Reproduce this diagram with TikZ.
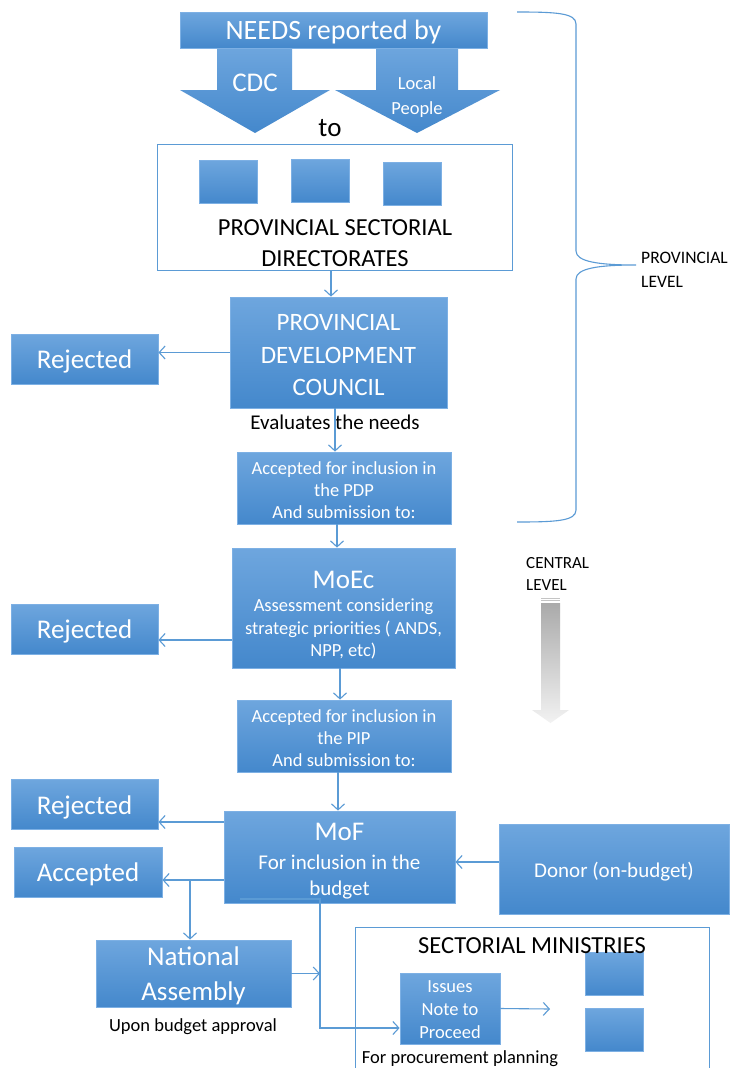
\documentclass[tikz,border=0pt]{standalone}
\usepackage{fontspec}
\setmainfont{Carlito}
\usetikzlibrary{arrows.meta}
\definecolor{boxtop}{RGB}{110,166,222}
\definecolor{boxbot}{RGB}{68,136,204}
\definecolor{boxedge}{RGB}{125,176,228}
\definecolor{linecol}{RGB}{91,155,213}
\definecolor{grtop}{RGB}{170,170,170}
\definecolor{grbot}{RGB}{242,242,242}
\newcommand{\fs}[2]{\fontsize{#1}{#2}\selectfont}
\tikzset{
  bbox/.style={rectangle, draw=boxedge, line width=0.8pt, top color=boxtop, bottom color=boxbot, inner sep=0pt},
  btxt/.style={text=white, inner sep=0pt, align=center, yshift=-2.5pt},
  conn/.style={draw=linecol, line width=1.1pt, -{Straight Barb[length=6pt,width=13pt]}},
  lbl/.style={text=black, inner sep=0pt, align=center},
  sq/.style={bbox, minimum width=58pt, minimum height=43pt},
  rej/.style={bbox, minimum width=147pt, minimum height=50pt},
}
\begin{document}
\begin{tikzpicture}[x=1pt,y=-1pt]
\useasboundingbox (0,0) rectangle (733,1068);
\fill[white] (0,0) rectangle (733,1068);

% ---- top arrows and banner
\shade[top color=boxtop, bottom color=boxbot] (217,46) -- (292,46) -- (292,90) -- (330,90) -- (255,133) -- (180,90) -- (217,90) -- cycle;
\shade[top color=boxtop, bottom color=boxbot] (376,46) -- (458,46) -- (458,90) -- (500,90) -- (417,133) -- (335,90) -- (376,90) -- cycle;
\node[bbox, minimum width=307pt, minimum height=36pt] (needs) at (333.5,30) {};
\node[btxt, font=\fs{28}{34}] (needs-t) at (needs.center) {NEEDS reported by};
\node[btxt, yshift=0pt, font=\fs{27}{32}] (cdc) at (255,80.5) {CDC};
\node[btxt, yshift=0pt, font=\fs{18.5}{24.5}] (local) at (417,94.5) {Local\\People};
\node[lbl, font=\fs{27}{32}] (to) at (330,128) {to};

% ---- provincial sectorial directorates
\node[draw=linecol, line width=0.8pt, minimum width=355pt, minimum height=126pt, inner sep=0pt] (psd) at (334.5,207) {};
\node[sq] (s1) at (228,181.5) {};
\node[sq] (s2) at (320,180.5) {};
\node[sq] (s3) at (412,183.5) {};
\node[lbl, font=\fs{24.5}{31}] (psdt) at (335,243.5) {PROVINCIAL SECTORIAL\\DIRECTORATES};

% ---- PDC
\node[bbox, minimum width=217pt, minimum height=111pt] (pdc) at (338.5,352.5) {};
\node[btxt, font=\fs{25}{32.5}] (pdc-t) at (pdc.center) {PROVINCIAL\\DEVELOPMENT\\COUNCIL};
\node[rej] (rej1) at (84.5,359) {};
\node[btxt, font=\fs{27}{32}] (rej1-t) at (rej1.center) {Rejected};
\node[lbl, font=\fs{21}{26}] (eval) at (335,422.5) {Evaluates the needs};
\node[bbox, minimum width=214pt, minimum height=72pt] (pdp) at (344,488) {};
\node[btxt, yshift=0pt, font=\fs{18.5}{22}] (pdp-t) at (pdp.center) {Accepted for inclusion in\\the PDP\\And submission to:};

% ---- MoEc
\node[bbox, minimum width=223pt, minimum height=120pt] (moec) at (343.5,608) {};
\node[btxt, yshift=-4.5pt, font=\fs{18.5}{22.5}] (moec-t) at (moec.center) {{\fs{27}{30}MoEc}\\[1pt]Assessment considering\\strategic priorities ( ANDS,\\NPP, etc)};
\node[rej] (rej2) at (84.5,629) {};
\node[btxt, font=\fs{27}{32}] (rej2-t) at (rej2.center) {Rejected};
\node[bbox, minimum width=214pt, minimum height=72pt] (pip) at (344,736) {};
\node[btxt, yshift=0pt, font=\fs{18.5}{22}] (pip-t) at (pip.center) {Accepted for inclusion in\\the PIP\\And submission to:};

% ---- MoF and below
\node[bbox, minimum width=231pt, minimum height=92pt] (mof) at (339.5,857) {};
\node[btxt, yshift=-2pt, font=\fs{21}{26}] (mof-t) at (mof.center) {{\fs{27}{30}MoF}\\[3pt]For inclusion in the\\budget};
\node[rej] (rej3) at (84.5,804.5) {};
\node[btxt, font=\fs{27}{32}] (rej3-t) at (rej3.center) {Rejected};
\node[bbox, minimum width=148pt, minimum height=50pt] (acc) at (88,872) {};
\node[btxt, font=\fs{27}{32}] (acc-t) at (acc.center) {Accepted};
\node[bbox, minimum width=195pt, minimum height=67pt] (na) at (193.5,973.5) {};
\node[btxt, font=\fs{27}{35}] (na-t) at (na.center) {National\\Assembly};
\node[lbl, font=\fs{18.5}{22}] (upon) at (193,1027) {Upon budget approval};
\node[bbox, minimum width=230pt, minimum height=90pt] (donor) at (614,869) {};
\node[btxt, font=\fs{21}{26}] (donor-t) at (donor.center) {Donor (on-budget)};

% ---- sectorial ministries
\draw[linecol, line width=0.8pt] (355,1068) -- (355,927) -- (709,927) -- (709,1068);
\node[sq] (s4) at (614,973.5) {};
\node[sq] (s5) at (614,1029.5) {};
\node[lbl, font=\fs{24.5}{30}] (smt) at (532,946) {SECTORIAL MINISTRIES};
\node[bbox, minimum width=100pt, minimum height=71pt] (issues) at (450,1008.5) {};
\node[btxt, yshift=1pt, font=\fs{18.5}{23}] (issues-t) at (issues.center) {Issues\\Note to\\Proceed};
\node[lbl, font=\fs{18.5}{22}] (proc) at (460,1059) {For procurement planning};

% ---- levels
\draw[linecol, line width=1.1pt] (517,12) .. controls (556,12) and (576,13) .. (576,24) -- (576,251) .. controls (576,262) and (600,265) .. (636,265) .. controls (600,265) and (576,268) .. (576,279) -- (576,510) .. controls (576,521) and (556,522) .. (517,522);
\node[lbl, anchor=west, align=left, font=\fs{17.5}{24}] (prov) at (641,270) {PROVINCIAL\\LEVEL};
\node[lbl, anchor=west, align=left, font=\fs{17}{22}] (cent) at (526,573.5) {CENTRAL\\LEVEL};
\draw[grtop!70!white, line width=0.8pt] (541,598) -- (560,598);
\draw[grtop!70!white, line width=0.8pt] (541,600.5) -- (560,600.5);
\shade[top color=grtop, bottom color=grbot] (541,603) -- (560,603) -- (560,710) -- (569,710) -- (550.5,723) -- (532,710) -- (541,710) -- cycle;

% ---- connectors
\draw[conn] ([xshift=-3.5pt]psd.south) -- ([xshift=-3.5pt]psd.south |- pdc.north);
\draw[conn] (pdc.west) -- (pdc.west -| rej1.east);
\draw[conn] ([xshift=-3.5pt]pdc.south) -- ([xshift=-3.5pt]pdc.south |- pdp.north);
\draw[conn] ([xshift=-7pt]pdp.south) -- ([xshift=-7pt]pdp.south |- moec.north);
\draw[conn] ([yshift=-32pt]moec.west) -- ([yshift=-32pt]moec.west -| rej2.east);
\draw[conn] ([xshift=-3.5pt]moec.south) -- ([xshift=-3.5pt]moec.south |- pip.north);
\draw[conn] ([xshift=-6pt]pip.south) -- ([xshift=-6pt]pip.south |- mof.north);
\draw[conn] ([yshift=35pt]mof.west) -- ([yshift=35pt]mof.west -| rej3.east);
\coordinate (br) at (190,880);
\draw[conn] ([yshift=-23pt]mof.west) -- ([yshift=-23pt]mof.west -| acc.east);
\draw[conn] (br) -- (br |- na.north);
\coordinate (nb) at (320,973.5);
\draw[conn] (na.east) -- (nb);
\coordinate (mb) at (240,899);
\draw[conn] (mb) -| ([yshift=-19.5pt]issues.west -| nb) -- ([yshift=-19.5pt]issues.west);
\coordinate (ie) at (550,1009);
\draw[conn] (issues.east) -- (ie);
\draw[conn] ([yshift=7pt]donor.west) -- ([yshift=7pt]donor.west -| mof.east);
\end{tikzpicture}
\end{document}
